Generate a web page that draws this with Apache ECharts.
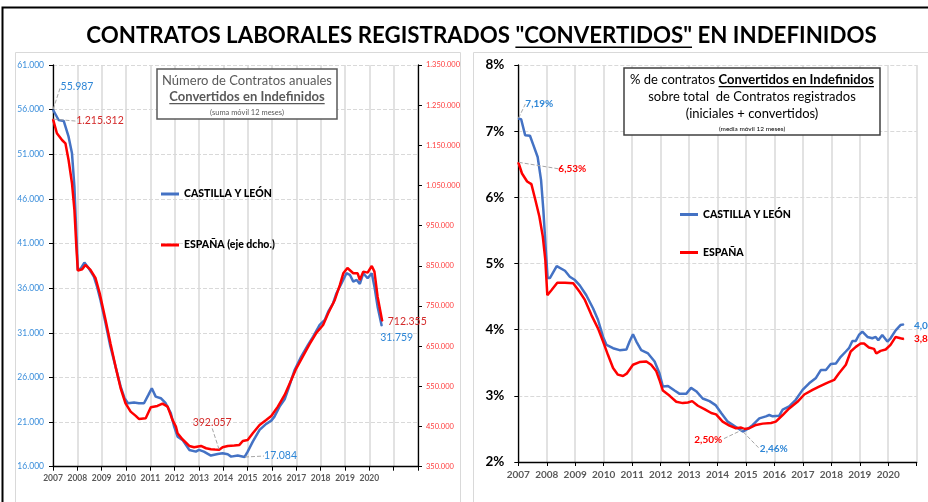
<!DOCTYPE html>
<html><head><meta charset="utf-8">
<script src="https://cdn.jsdelivr.net/npm/echarts@6/dist/echarts.min.js"></script>
<style>html,body{margin:0;padding:0;background:#fff}#c{width:928px;height:502px}</style>
</head><body><div id="c"></div><script>
// ---------- DATA ----------
const lastYearLabel = 2020;
// Left chart: nº contratos convertidos (suma móvil 12 meses) [año decimal, valor]
const cylNum = [
[2007.00,55987],[2007.08,56050],[2007.23,54840],[2007.44,54730],[2007.64,52970],[2007.78,51110],
[2007.88,47370],[2007.96,42000],[2008.02,38040],[2008.15,38230],[2008.29,38860],[2008.47,38230],
[2008.68,37290],[2008.81,36170],[2008.95,34680],[2009.16,32070],[2009.36,29450],[2009.57,27210],
[2009.78,24970],[2009.94,23670],[2010.08,23110],[2010.33,23180],[2010.53,23110],[2010.74,23110],
[2010.92,24040],[2011.06,24790],[2011.22,23850],[2011.43,23670],[2011.63,23110],[2011.84,22000],
[2011.98,20490],[2012.12,19370],[2012.32,19000],[2012.60,17880],[2012.87,17690],[2013.00,17880],
[2013.20,17690],[2013.49,17250],[2013.77,17430],[2013.97,17510],[2014.18,17400],[2014.32,17130],
[2014.59,17250],[2014.87,17084],[2015.00,17690],[2015.21,18810],[2015.49,20120],[2015.76,20790],
[2015.97,21160],[2016.10,21610],[2016.31,22730],[2016.52,23560],[2016.68,24790],[2016.93,26840],
[2017.20,28330],[2017.48,29640],[2017.69,30570],[2017.96,31880],[2018.17,32440],[2018.31,33370],
[2018.51,34310],[2018.65,35430],[2018.86,36550],[2019.06,37670],[2019.20,37500],[2019.34,36730],
[2019.48,36920],[2019.61,36470],[2019.75,37670],[2019.93,37110],[2020.10,37670],[2020.21,36170],
[2020.34,33930],[2020.51,31759]
];
const esNum = [
[2007.00,1215312],[2007.16,1180000],[2007.37,1163300],[2007.51,1155100],[2007.64,1113600],[2007.78,1055600],
[2007.88,989100],[2007.96,897800],[2008.02,838000],[2008.20,841500],[2008.33,852200],[2008.54,839750],
[2008.75,819100],[2008.92,781800],[2009.16,715300],[2009.36,657300],[2009.57,599200],[2009.78,545300],
[2009.98,507950],[2010.19,487200],[2010.40,476500],[2010.53,469000],[2010.81,470700],[2011.02,498000],
[2011.29,501300],[2011.50,507000],[2011.71,499500],[2011.91,466400],[2012.05,449800],[2012.12,433200],
[2012.32,418300],[2012.60,401700],[2012.80,398400],[2013.08,401700],[2013.29,395900],[2013.49,393500],
[2013.65,392600],[2013.83,392057],[2013.97,398400],[2014.18,401700],[2014.45,402500],[2014.66,404200],
[2014.80,414100],[2015.00,416600],[2015.21,433200],[2015.49,454000],[2015.76,466400],[2015.97,476400],
[2016.24,499500],[2016.52,528600],[2016.79,565900],[2017.00,595000],[2017.28,625700],[2017.55,655600],
[2017.83,683700],[2018.10,702900],[2018.31,732000],[2018.58,765100],[2018.79,802400],[2018.93,831500],
[2019.10,844700],[2019.34,831500],[2019.52,831500],[2019.61,814800],[2019.75,835600],[2019.93,833100],
[2020.10,849700],[2020.21,835600],[2020.34,773300],[2020.53,712355]
];
// Right chart: % convertidos sobre total (media móvil 12 meses)
const cylPct = [
[2007.00,7.19],[2007.10,7.18],[2007.24,6.94],[2007.41,6.93],[2007.53,6.79],[2007.68,6.61],[2007.80,6.26],
[2007.88,5.81],[2007.96,5.25],[2008.03,4.78],[2008.11,4.78],[2008.35,4.96],[2008.64,4.89],[2008.81,4.80],
[2008.99,4.75],[2009.16,4.67],[2009.39,4.52],[2009.63,4.32],[2009.80,4.15],[2009.98,3.89],[2010.10,3.77],
[2010.33,3.72],[2010.56,3.69],[2010.80,3.70],[2010.91,3.82],[2011.03,3.93],[2011.15,3.82],[2011.32,3.69],
[2011.56,3.64],[2011.79,3.52],[2011.96,3.34],[2012.08,3.14],[2012.26,3.15],[2012.49,3.08],[2012.67,3.03],
[2012.90,3.03],[2013.07,3.12],[2013.25,3.07],[2013.48,2.96],[2013.72,2.92],[2013.93,2.86],[2014.13,2.74],
[2014.36,2.61],[2014.65,2.53],[2014.89,2.46],[2015.06,2.50],[2015.24,2.56],[2015.47,2.66],[2015.70,2.69],
[2015.82,2.71],[2015.94,2.69],[2016.17,2.70],[2016.29,2.79],[2016.52,2.84],[2016.75,2.94],[2016.99,3.09],
[2017.22,3.19],[2017.46,3.27],[2017.63,3.39],[2017.81,3.39],[2017.98,3.48],[2018.16,3.49],[2018.33,3.59],
[2018.51,3.67],[2018.62,3.72],[2018.74,3.83],[2018.86,3.83],[2018.97,3.92],[2019.09,3.97],[2019.27,3.89],
[2019.44,3.87],[2019.56,3.89],[2019.65,3.84],[2019.79,3.92],[2019.97,3.82],[2020.08,3.87],[2020.26,3.99],
[2020.43,4.07],[2020.55,4.08]
];
const esPct = [
[2007.00,6.53],[2007.13,6.36],[2007.31,6.24],[2007.46,6.20],[2007.60,5.96],[2007.74,5.71],[2007.86,5.41],
[2007.95,5.05],[2008.02,4.52],[2008.17,4.60],[2008.37,4.71],[2008.64,4.71],[2008.93,4.70],[2009.16,4.57],
[2009.34,4.45],[2009.57,4.22],[2009.80,4.02],[2009.98,3.82],[2010.15,3.62],[2010.33,3.42],[2010.50,3.32],
[2010.68,3.30],[2010.82,3.34],[2011.03,3.47],[2011.26,3.51],[2011.50,3.52],[2011.67,3.47],[2011.85,3.37],
[2011.96,3.24],[2012.08,3.08],[2012.32,3.00],[2012.55,2.91],[2012.78,2.89],[2012.96,2.90],[2013.11,2.92],
[2013.31,2.85],[2013.54,2.80],[2013.78,2.74],[2013.95,2.72],[2014.18,2.61],[2014.42,2.55],[2014.65,2.51],
[2014.83,2.52],[2014.94,2.50],[2015.12,2.51],[2015.35,2.56],[2015.59,2.58],[2015.88,2.59],[2016.05,2.61],
[2016.29,2.71],[2016.52,2.81],[2016.81,2.91],[2017.05,3.02],[2017.34,3.09],[2017.57,3.14],[2017.87,3.20],
[2018.10,3.24],[2018.27,3.34],[2018.51,3.47],[2018.68,3.67],[2018.86,3.74],[2019.03,3.79],[2019.15,3.79],
[2019.32,3.73],[2019.50,3.71],[2019.58,3.64],[2019.73,3.68],[2019.91,3.70],[2020.08,3.77],[2020.26,3.89],
[2020.43,3.87],[2020.55,3.86]
];
const seriesNames = ['CASTILLA Y LEÓN', 'ESPAÑA (eje dcho.)', 'ESPAÑA'];
const titleParts = ['CONTRATOS LABORALES REGISTRADOS ', '"CONVERTIDOS"', ' EN INDEFINIDOS'];

// ---------- HELPERS ----------
const FONT = 'Lato, "Open Sans", sans-serif';
const BLUE = '#4472C4', RED = '#FF0000';
const BLUE_T = '#2E86D6';
const fmtN = n => String(Math.round(n)).replace(/\B(?=(\d{3})+(?!\d))/g, '.');
const fmtP = v => v.toFixed(2).replace('.', ',') + '%';
const ctx = document.createElement('canvas').getContext('2d');
const tw = (t, f) => { ctx.font = f; return ctx.measureText(t).width; };

const offsets = {};
function build(arr, sIdx, fmt, tstyle, ann) {
  offsets[sIdx] = {};
  let minI = 0; arr.forEach((p, i) => { if (p[1] < arr[minI][1]) minI = i; });
  const idx = {first: 0, min: minI, last: arr.length - 1};
  const map = {};
  Object.keys(ann).forEach(k => { map[idx[k]] = ann[k]; });
  return arr.map((p, i) => {
    const a = map[i];
    if (!a) return p;
    offsets[sIdx][i] = {dx: a.dx, dy: a.dy};
    return {
      value: p, symbol: 'circle', symbolSize: 1,
      label: Object.assign({show: true, position: 'top', distance: 5, formatter: () => fmt(p[1])}, tstyle),
      labelLine: {show: a.line !== false, lineStyle: {color: '#A6A6A6', type: 'dashed', width: 1}}
    };
  });
}
const lblL = c => ({color: c, fontSize: 10.5, fontFamily: FONT});
const lblR = c => ({color: c, fontSize: 10, fontWeight: 'bold', fontFamily: FONT});

const d0 = build(cylNum, 0, fmtN, lblL(BLUE_T), {first:{dx:24,dy:-12}, min:{dx:36,dy:10}, last:{dx:15,dy:23,line:false}});
const d1 = build(esNum, 1, fmtN, lblL('#D42A2A'), {first:{dx:47,dy:13}, min:{dx:-7,dy:-16}, last:{dx:25,dy:11,line:false}});
const d2 = build(cylPct, 2, fmtP, lblR(BLUE_T), {first:{dx:21,dy:-4}, min:{dx:31,dy:28}, last:{dx:24,dy:12,line:false}});
const d3 = build(esPct, 3, fmtP, lblR(RED), {first:{dx:54,dy:17}, min:{dx:-36,dy:21}, last:{dx:24,dy:10,line:false}});

// ---------- GRAPHICS ----------
let ts = 22;
const titleFull = titleParts.join('');
ts = Math.max(18, Math.min(25, ts * 791 / tw(titleFull, `bold ${ts}px ${FONT}`)));
const tFont = `bold ${ts}px ${FONT}`;
const tW = tw(titleFull, tFont), tCx = 481.5;
const uX = tCx - tW / 2 + tw(titleParts[0], tFont), uW = tw(titleParts[1], tFont);

const lbFontB = `bold 13px ${FONT}`;
const lbU = tw('Convertidos en Indefinidos', lbFontB);
const rb1a = '% de contratos ', rb1b = 'Convertidos en Indefinidos';
const rbA = tw(rb1a, `13px ${FONT}`), rbB = tw(rb1b, `bold 13px ${FONT}`);
const rbCx = 752;

const graphic = [
  {type:'rect', z:0, shape:{x:2.5, y:7.5, width:940, height:520}, style:{fill:'none', stroke:'#000', lineWidth:2}},
  {type:'rect', z:0, shape:{x:15.5, y:52.5, width:445, height:470}, style:{fill:'none', stroke:'#D9D9D9', lineWidth:1}},
  {type:'rect', z:0, shape:{x:473.5, y:52.5, width:480, height:470}, style:{fill:'none', stroke:'#D9D9D9', lineWidth:1}},
  {type:'text', z:100, style:{x:tCx, y:36, text:titleFull, font:tFont, fill:'#000', align:'center', verticalAlign:'middle'}},
  {type:'rect', z:100, shape:{x:uX, y:46.5, width:uW, height:1.6}, style:{fill:'#000'}},
  // left info box
  {type:'rect', z:100, shape:{x:157, y:69, width:180, height:50}, style:{fill:'#fff', stroke:'#595959', lineWidth:1.5}},
  {type:'text', z:101, style:{x:247, y:80.5, text:'Número de Contratos anuales', font:`13px ${FONT}`, fill:'#595959', align:'center', verticalAlign:'middle'}},
  {type:'text', z:101, style:{x:247, y:97, text:'Convertidos en Indefinidos', font:lbFontB, fill:'#595959', align:'center', verticalAlign:'middle'}},
  {type:'rect', z:101, shape:{x:247 - lbU/2, y:103, width:lbU, height:1.2}, style:{fill:'#595959'}},
  {type:'text', z:101, style:{x:247, y:112.5, text:'(suma móvil 12 meses)', font:`7.5px ${FONT}`, fill:'#595959', align:'center', verticalAlign:'middle'}},
  // right info box
  {type:'rect', z:100, shape:{x:624, y:68, width:256, height:67}, style:{fill:'#fff', stroke:'#404040', lineWidth:1.5}},
  {type:'text', z:101, style:{x:rbCx, y:80, text:'{a|' + rb1a + '}{b|' + rb1b + '}', align:'center', verticalAlign:'middle',
     rich:{a:{fontSize:13, fontFamily:FONT, fill:'#000', color:'#000'}, b:{fontSize:13, fontFamily:FONT, fontWeight:'bold', fill:'#000', color:'#000'}}}},
  {type:'rect', z:101, shape:{x:rbCx - (rbA + rbB)/2 + rbA, y:86, width:rbB, height:1.2}, style:{fill:'#000'}},
  {type:'text', z:101, style:{x:rbCx, y:97, text:'sobre total  de Contratos registrados', font:`13px ${FONT}`, fill:'#000', align:'center', verticalAlign:'middle'}},
  {type:'text', z:101, style:{x:rbCx, y:114, text:'(iniciales + convertidos)', font:`13px ${FONT}`, fill:'#000', align:'center', verticalAlign:'middle'}},
  {type:'text', z:101, style:{x:rbCx, y:128.5, text:'(media móvil 12 meses)', font:`6.5px ${FONT}`, fill:'#000', align:'center', verticalAlign:'middle'}}
];

// ---------- CHART ----------
const axisLine = {show:true, lineStyle:{color:'#000', width:1.3}};
const tick = {show:true, inside:false, length:4, lineStyle:{color:'#000', width:1}};
const vSplit = {show:true, lineStyle:{color:'#D9D9D9', width:1.5}};
const hSplit = {show:true, lineStyle:{color:'#D9D9D9', width:1, type:'dashed'}};
const xLbl = (fs, m) => ({fontFamily:FONT, fontWeight:'bold', fontSize:fs, color:'#595959', margin:m,
  formatter: v => v <= lastYearLabel ? String(v) : ''});

const lineS = (name, xi, yi, data, color, sIdx) => ({
  type:'line', name, xAxisIndex:xi, yAxisIndex:yi, data, color,
  symbol:'none', showSymbol:true, showAllSymbol:true, smooth:false,
  lineStyle:{color, width:2.5}, z: 3 + sIdx,
  labelLayout: p => (offsets[sIdx] && offsets[sIdx][p.dataIndex]) || {},
  emphasis:{disabled:true}
});

const legendText = {fontFamily:FONT, fontWeight:900, fontSize:10.5, color:'#000'};

const chart = echarts.init(document.getElementById('c'), null, {renderer:'canvas'});
chart.setOption({
  animation:false,
  backgroundColor:'#fff',
  textStyle:{fontFamily:FONT},
  graphic,
  grid:[
    {left:53, top:65, width:365, height:401.7},
    {left:518.3, top:65, width:398.4, height:397}
  ],
  xAxis:[
    {type:'value', gridIndex:0, min:2007, max:2022, interval:1, axisLine, axisTick:tick, splitLine:vSplit, axisLabel:xLbl(8.5, 7)},
    {type:'value', gridIndex:1, min:2007, max:2021, interval:1, axisLine, axisTick:tick, splitLine:vSplit, axisLabel:xLbl(10, 8)}
  ],
  yAxis:[
    {type:'value', gridIndex:0, min:16000, max:61000, interval:5000, position:'left', axisLine, axisTick:tick, splitLine:hSplit,
     axisLabel:{fontFamily:FONT, fontSize:8.5, color:'#3B8EDB', margin:9, formatter:v => fmtN(v)}},
    {type:'value', gridIndex:0, min:350000, max:1350000, interval:100000, position:'right', axisLine, axisTick:tick, splitLine:{show:false},
     axisLabel:{fontFamily:FONT, fontSize:7.5, color:'#FF3B3B', margin:8, formatter:v => fmtN(v)}},
    {type:'value', gridIndex:1, min:2, max:8, interval:1, axisLine, axisTick:tick, splitLine:hSplit,
     axisLabel:{fontFamily:FONT, fontSize:13.5, fontWeight:'bold', color:'#000', margin:14, formatter:v => v + '%'}}
  ],
  legend:[
    {data:[seriesNames[0], seriesNames[1]], orient:'vertical', left:156, top:183.5, itemGap:40, icon:'rect', itemWidth:18, itemHeight:3,
     selectedMode:false, textStyle:legendText},
    {data:[seriesNames[0], seriesNames[2]], orient:'vertical', left:675, top:204, itemGap:27, icon:'rect', itemWidth:18, itemHeight:3,
     selectedMode:false, textStyle:legendText}
  ],
  series:[
    lineS(seriesNames[0], 0, 0, d0, BLUE, 0),
    lineS(seriesNames[1], 0, 1, d1, RED, 1),
    lineS(seriesNames[0], 1, 2, d2, BLUE, 2),
    lineS(seriesNames[2], 1, 2, d3, RED, 3)
  ]
});
</script></body></html>
